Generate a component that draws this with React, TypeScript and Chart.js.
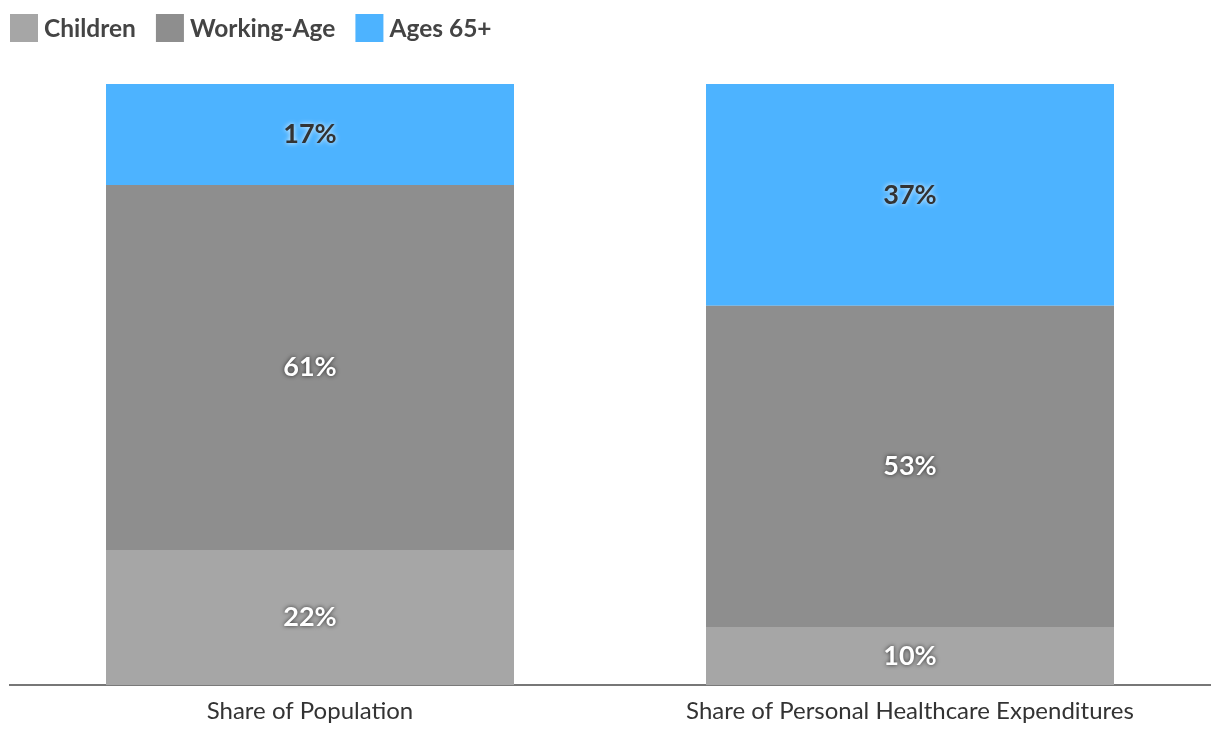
import React, { useEffect, useRef } from "react";
import { Chart, registerables } from "chart.js";

Chart.register(...registerables);

const categories = ["Share of Population", "Share of Personal Healthcare Expenditures"];
const seriesNames = ["Children", "Working-Age", "Ages 65+"];
const children = [22.5, 9.7];
const workingAge = [60.7, 53.4];
const ages65 = [16.8, 36.9];
const labelsChildren = ["22%", "10%"];
const labelsWorking = ["61%", "53%"];
const labels65 = ["17%", "37%"];
const colors = ["#a6a6a6", "#8e8e8e", "#4db3ff"];

const valueLabelPlugin = {
  id: "valueLabels",
  afterDatasetsDraw(chart: any) {
    const ctx = chart.ctx;
    const labelSets = [labelsChildren, labelsWorking, labels65];
    chart.data.datasets.forEach((ds: any, di: number) => {
      const meta = chart.getDatasetMeta(di);
      meta.data.forEach((bar: any, i: number) => {
        const yc = (bar.y + bar.base) / 2;
        ctx.save();
        ctx.font = "bold 27px Lato";
        ctx.textAlign = "center";
        ctx.textBaseline = "middle";
        if (di === 2) {
          ctx.shadowColor = "rgba(255,255,255,0.9)";
          ctx.shadowBlur = 5;
          ctx.fillStyle = "#333333";
        } else {
          ctx.shadowColor = "rgba(0,0,0,0.7)";
          ctx.shadowBlur = 4;
          ctx.fillStyle = "#ffffff";
        }
        ctx.fillText(labelSets[di][i], bar.x, yc);
        ctx.restore();
      });
    });
  },
};

const legendPlugin = {
  id: "customLegend",
  afterDraw(chart: any) {
    const ctx = chart.ctx;
    ctx.save();
    ctx.font = "bold 24.5px Lato";
    ctx.textBaseline = "middle";
    ctx.textAlign = "left";
    let x = 10;
    const boxTop = 14;
    const box = 28;
    chart.data.datasets.forEach((ds: any) => {
      ctx.fillStyle = ds.backgroundColor;
      ctx.fillRect(x, boxTop, box, box);
      ctx.fillStyle = "#444444";
      const tx = x + box + 6;
      ctx.fillText(ds.label, tx, boxTop + box / 2 + 1);
      x = tx + ctx.measureText(ds.label).width + 20;
    });
    ctx.restore();
  },
};

export default function App() {
  const ref = useRef<HTMLCanvasElement>(null);
  useEffect(() => {
    const chart = new Chart(ref.current!, {
      type: "bar",
      data: {
        labels: categories,
        datasets: [
          { label: seriesNames[0], data: children, backgroundColor: colors[0] },
          { label: seriesNames[1], data: workingAge, backgroundColor: colors[1] },
          { label: seriesNames[2], data: ages65, backgroundColor: colors[2] },
        ],
      },
      options: {
        animation: false,
        responsive: false,
        layout: { padding: { left: 10, right: 10, bottom: 10, top: 84 } },
        datasets: { bar: { categoryPercentage: 1, barPercentage: 0.68 } } as any,
        plugins: {
          tooltip: { enabled: false },
          legend: { display: false },
        },
        scales: {
          x: {
            stacked: true,
            grid: { display: false },
            border: { display: true, color: "#777777", width: 2 },
            ticks: { color: "#333333", padding: 4, font: { family: "Lato", size: 24 } },
          },
          y: { stacked: true, display: false, min: 0, max: 100 },
        },
      },
      plugins: [valueLabelPlugin, legendPlugin],
    });
    return () => chart.destroy();
  }, []);
  return (
    <div style={{ position: "fixed", left: 0, top: 0, width: 1220, height: 740, background: "#fff" }}>
      <canvas ref={ref} width={1220} height={740} />
    </div>
  );
}
